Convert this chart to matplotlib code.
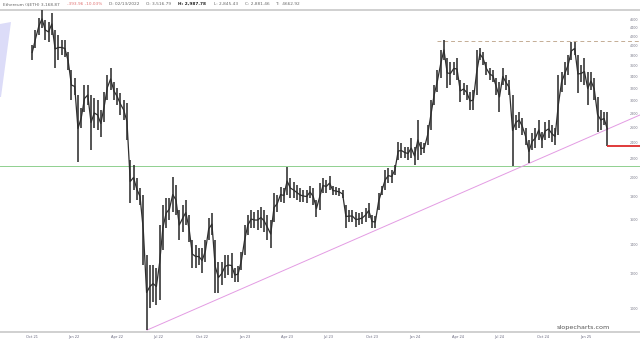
import numpy as np
import pandas as pd
import matplotlib
matplotlib.use("Agg")
import matplotlib.pyplot as plt
from matplotlib.patches import Polygon
from matplotlib.ticker import NullLocator

# --- weekly high / low of ETH ---
week_start = "2021-10-15"
week_high = [
    4021, 4353, 4639, 4839, 4590, 4542, 4763, 4353, 4240, 4129,
    4129, 3875, 3523, 3377, 3086, 2882, 3254, 3254, 3086, 3038,
    3006, 2851, 3136, 3431, 3561, 3306, 3203, 3119, 3006, 2959,
    2188, 2131, 1989, 1887, 1818, 1324, 1255, 1255, 1236, 1551,
    1725, 1790, 1790, 1999, 1917, 1679, 1725, 1771, 1636, 1433,
    1396, 1374, 1374, 1433, 1610, 1653, 1433, 1276, 1276, 1324,
    1324, 1338, 1236, 1249, 1345, 1551, 1636, 1679, 1662, 1679,
    1707, 1679, 1636, 1593, 1838, 1818, 1897, 1887, 2109, 1989,
    1947, 1917, 1887, 1867, 1867, 1907, 1887, 1771, 1937, 1989,
    1968, 2010, 1907, 1897, 1887, 1867, 1725, 1679, 1679, 1662,
    1653, 1662, 1697, 1743, 1636, 1627, 1838, 1907, 2075, 2097,
    2075, 2131, 2407, 2394, 2344, 2344, 2459, 2344, 2704, 2407,
    2394, 2633, 3006, 3254, 3523, 3916, 4129, 3754, 3675, 3675,
    3754, 3341, 3289, 3254, 3136, 3169, 3916, 3958, 3875, 3675,
    3561, 3523, 3377, 3306, 3561, 3431, 3341, 3086, 2777, 2821,
    2733, 2592, 2432, 2525, 2592, 2704, 2538, 2676, 2704, 2633,
    2592, 3431, 3486, 3675, 3814, 4086, 4086, 3814, 3617, 3754,
    3486, 3486, 3377, 3054, 2851, 2821, 2821,
]
week_low = [
    3714, 3958, 4240, 4400, 4129, 4086, 4240, 3561, 3714, 3814,
    3774, 3523, 3006, 3086, 2165, 2592, 2821, 2927, 2307, 2592,
    2565, 2472, 2676, 3006, 3169, 3006, 2927, 2777, 2704, 2432,
    1743, 1867, 1771, 1725, 1255, 890, 1000, 1032, 1016, 1043,
    1359, 1527, 1593, 1662, 1636, 1433, 1495, 1551, 1418, 1236,
    1236, 1255, 1204, 1276, 1433, 1471, 1083, 1083, 1129, 1172,
    1191, 1172, 1147, 1147, 1223, 1324, 1471, 1527, 1527, 1511,
    1527, 1495, 1433, 1374, 1576, 1662, 1752, 1743, 1818, 1790,
    1790, 1771, 1752, 1752, 1743, 1790, 1725, 1619, 1679, 1838,
    1838, 1867, 1818, 1818, 1809, 1790, 1527, 1576, 1576, 1535,
    1551, 1560, 1576, 1610, 1527, 1527, 1679, 1818, 1867, 1937,
    1937, 2021, 2188, 2211, 2211, 2188, 2211, 2131, 2188, 2247,
    2271, 2369, 2565, 2927, 3136, 3377, 3714, 3203, 3254, 3431,
    3341, 2974, 3086, 3006, 2851, 2851, 3086, 3714, 3617, 3431,
    3341, 3306, 3086, 2821, 3254, 3169, 3086, 2120, 2565, 2592,
    2498, 2369, 2154, 2307, 2332, 2432, 2332, 2432, 2459, 2407,
    2369, 2498, 3136, 3254, 3431, 3714, 3814, 3119, 3306, 3254,
    2927, 3169, 3006, 2538, 2565, 2633, 2357,
]
weeks = pd.date_range(week_start, periods=len(week_high), freq="7D")

last_close = 2360
support_level = 2120
resistance_level = 4100
resistance_start = "2024-03-01"
trend_dates = ["2022-06-18", "2025-05-09"]
trend_values = [890, 2777]
x_start, x_end = "2021-08-07", "2025-05-09"

y_ticks = list(range(1000, 4601, 200))
x_ticks = pd.date_range("2021-10-01", "2025-01-01", freq="QS")
x_tick_labels = [d.strftime("%b %y") for d in x_ticks]

W, H = 640, 343
fig = plt.figure(figsize=(W / 100, H / 100), dpi=100)
fig.patch.set_facecolor("white")
ax = fig.add_axes([0, 1 - 332 / H, 1, (332 - 9.5) / H])

# lavender drawing stub at the far left
fig.patches.append(Polygon([(0, 1 - 24 / H), (11 / W, 1 - 22 / H), (1 / W, 1 - 97 / H), (0, 1 - 97 / H)],
                           closed=True, transform=fig.transFigure, facecolor="#dcdcf8", edgecolor="none", zorder=0))

ax.set_yscale("log")
ax.set_ylim(881, 4851)
ax.set_xlim(pd.Timestamp(x_start), pd.Timestamp(x_end))

# price: thin high/low bars joined by a line through each bar's midpoint
hi = np.array(week_high, float)
lo = np.array(week_low, float)
mid = np.sqrt(hi * lo)
ax.vlines(weeks, lo, hi, color="#262626", lw=1.1, zorder=3)
ax.plot(weeks, mid, color="#2e2e2e", lw=0.9, zorder=3)

# overlays
ax.axhline(support_level, color="#8fd08f", lw=0.7, zorder=2)
ax.hlines(resistance_level, pd.Timestamp(resistance_start), pd.Timestamp(x_end),
          color="#c4ad95", lw=0.7, linestyles=(0, (4, 3)), zorder=2)
ax.plot(pd.to_datetime(trend_dates), trend_values, color="#e39be3", lw=0.7, zorder=2)
ax.hlines(last_close, weeks[-1], pd.Timestamp(x_end), color="#dd2b2b", lw=1.3, zorder=4)

# axes styling
for s in ["left", "right"]:
    ax.spines[s].set_visible(False)
for s in ["top", "bottom"]:
    ax.spines[s].set_color("#c8c8c8")
    ax.spines[s].set_linewidth(1.2)

ax.yaxis.tick_right()
ax.yaxis.set_minor_locator(NullLocator())
ax.set_yticks(y_ticks)
ax.set_yticklabels([str(v) for v in y_ticks])
ax.tick_params(axis="y", length=0, pad=-7.5, labelsize=2.4, labelcolor="#7a7a8a")

ax.set_xticks(x_ticks)
ax.set_xticklabels(x_tick_labels, ha="left")
ax.tick_params(axis="x", length=0, pad=2, labelsize=2.6, labelcolor="#6a6a80")

# header line, laid out piece by piece
header = [
    ("Ethereum ($ETH) 3,168.87", "#666666", "normal"),
    ("-393.96 -10.03%", "#e07070", "normal"),
    ("D: 02/13/2022", "#666666", "normal"),
    ("O: 3,516.79", "#666666", "normal"),
    ("H: 2,987.78", "#222222", "bold"),
    ("L: 2,845.43", "#666666", "normal"),
    ("C: 2,881.46", "#666666", "normal"),
    ("T:  4662.92", "#666666", "normal"),
]
renderer = fig.canvas.get_renderer()
px = 3
for txt, col, wt in header:
    t = fig.text(px / W, 1 - 4 / H, txt, ha="left", va="center", fontsize=3.1,
                 color=col, fontweight=wt)
    px += t.get_window_extent(renderer).width + 7

fig.text(583 / W, 1 - 327 / H, "slopecharts.com", ha="center", va="center",
         fontsize=4.6, color="#555555")

fig.savefig("out.png", dpi=100, facecolor="white")
